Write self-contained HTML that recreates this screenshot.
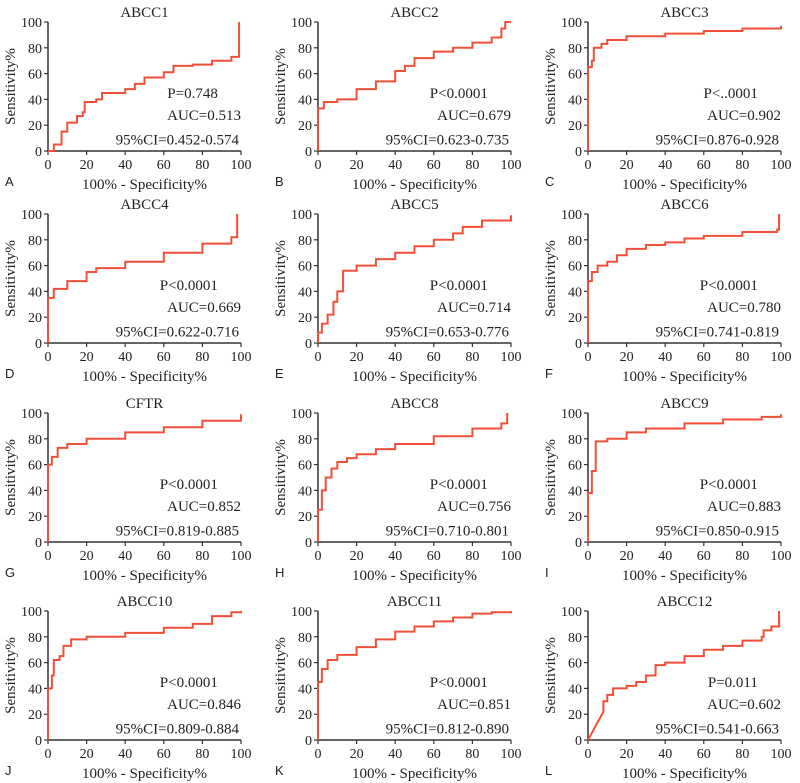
<!DOCTYPE html>
<html><head><meta charset="utf-8"><style>
body{margin:0;background:#fff;}
svg{display:block;}
text{font-family:"Liberation Serif",serif;fill:#222;}
</style></head><body>
<svg id="fig" width="800" height="783" viewBox="0 0 800 783" xmlns="http://www.w3.org/2000/svg"></svg>
<script>
const titles=["ABCC1","ABCC2","ABCC3","ABCC4","ABCC5","ABCC6","CFTR","ABCC8","ABCC9","ABCC10","ABCC11","ABCC12"];
const letters=["A","B","C","D","E","F","G","H","I","J","K","L"];
const pTexts=["P=0.748","P<0.0001","P<..0001","P<0.0001","P<0.0001","P<0.0001","P<0.0001","P<0.0001","P<0.0001","P<0.0001","P<0.0001","P=0.011"];
const aucTexts=["AUC=0.513","AUC=0.679","AUC=0.902","AUC=0.669","AUC=0.714","AUC=0.780","AUC=0.852","AUC=0.756","AUC=0.883","AUC=0.846","AUC=0.851","AUC=0.602"];
const ciTexts=["95%CI=0.452-0.574","95%CI=0.623-0.735","95%CI=0.876-0.928","95%CI=0.622-0.716","95%CI=0.653-0.776","95%CI=0.741-0.819","95%CI=0.819-0.885","95%CI=0.710-0.801","95%CI=0.850-0.915","95%CI=0.809-0.884","95%CI=0.812-0.890","95%CI=0.541-0.663"];
const tickVals=[0,20,40,60,80,100];
const curveA=[[0,0],[3,0],[3,5],[7,5],[7,15],[10,22],[15,27],[18,30],[19,38],[25,40],[28,45],[40,48],[45,52],[50,57],[60,61],[65,66],[75,67],[85,70],[95,73],[99,76],[99,100]];
const curveB=[[0,0],[0,33],[3,38],[10,40],[20,48],[30,54],[40,62],[45,66],[50,72],[60,77],[70,80],[80,84],[90,88],[95,95],[97,100],[100,100]];
const curveC=[[0,0],[0,65],[2,70],[3,80],[7,83],[10,86],[20,89],[40,91],[60,93],[80,95],[100,97]];
const curveD=[[0,0],[0,35],[3,42],[10,48],[20,55],[25,58],[40,63],[60,70],[80,77],[95,82],[98,90],[98,100]];
const curveE=[[0,0],[0,8],[2,15],[5,22],[8,32],[10,40],[13,45],[13,56],[20,60],[30,65],[40,70],[50,75],[60,80],[70,85],[75,90],[85,95],[100,99]];
const curveF=[[0,0],[0,48],[2,55],[5,60],[10,63],[15,68],[20,73],[30,76],[40,78],[50,81],[60,83],[80,86],[98,88],[99,100]];
const curveG=[[0,0],[0,60],[2,66],[5,73],[10,76],[20,80],[40,85],[60,89],[80,94],[100,99]];
const curveH=[[0,0],[0,25],[2,40],[4,50],[7,57],[10,62],[15,65],[20,68],[30,72],[40,76],[60,82],[80,88],[95,92],[98,100]];
const curveI=[[0,0],[0,38],[2,55],[4,78],[10,80],[20,85],[30,88],[50,92],[70,95],[90,97],[100,99]];
const curveJ=[[0,0],[0,40],[2,50],[3,62],[6,65],[8,73],[12,78],[20,80],[40,83],[60,87],[75,90],[85,96],[95,99],[100,100]];
const curveK=[[0,0],[0,45],[2,55],[5,62],[10,66],[20,72],[30,78],[40,84],[50,88],[60,92],[70,95],[80,98],[90,99],[100,100]];
const curveL=[[0,0],[8,22],[8,30],[10,35],[13,40],[20,42],[25,45],[30,50],[35,58],[40,60],[50,65],[60,70],[70,73],[80,77],[90,80],[91,85],[95,88],[99,90],[99,100]];
const curves=[curveA,curveB,curveC,curveD,curveE,curveF,curveG,curveH,curveI,curveJ,curveK,curveL];
const colX=[48,318,588], rowY=[22,214,413,611], W=193, H=129;
const svg=document.getElementById('fig');
const NS="http://www.w3.org/2000/svg";
function mk(tag,attrs,parent){const e=document.createElementNS(NS,tag);for(const k in attrs)e.setAttribute(k,attrs[k]);parent.appendChild(e);return e;}
curves.forEach((c,i)=>{
  const x0=colX[i%3], y0=rowY[Math.floor(i/3)];
  const sx=v=>x0+v/100*W, sy=v=>y0+H-v/100*H;
  const g=mk('g',{},svg);
  
  
  const t=mk('text',{x:x0+W/2,y:y0-5,'text-anchor':'middle','font-size':15},g);t.textContent=titles[i];
  
  
  // axes
  const ax=mk('path',{d:`M${x0},${y0} V${y0+H} H${x0+W}`,stroke:'#333','stroke-width':1.5,fill:'none'},g);
  
  
  tickVals.forEach(v=>{
    mk('line',{x1:x0-4,x2:x0,y1:sy(v),y2:sy(v),stroke:'#333','stroke-width':1.2},g);
    mk('line',{x1:sx(v),x2:sx(v),y1:y0+H,y2:y0+H+4,stroke:'#333','stroke-width':1.2},g);
    const yl=mk('text',{x:x0-6,y:sy(v)+5,'text-anchor':'end','font-size':14},g);yl.textContent=v;
    
    
    const xl=mk('text',{x:sx(v),y:y0+H+18,'text-anchor':'middle','font-size':14},g);xl.textContent=v;
    
    
  });
  const yt=mk('text',{x:0,y:0,'text-anchor':'middle','font-size':15,transform:`translate(${x0-33},${y0+H/2}) rotate(-90)`},g);yt.textContent='Sensitivity%';
  
  
  const xt=mk('text',{x:x0+W/2,y:y0+H+38,'text-anchor':'middle','font-size':15},g);xt.textContent='100% - Specificity%';
  
  
  const lt=mk('text',{x:x0-43,y:y0+H+35,'font-size':13,style:'font-family:"Liberation Sans",sans-serif'},g);lt.textContent=letters[i];
  
  
  // curve
  let d=`M${sx(c[0][0])},${sy(c[0][1])}`;
  for(let k=1;k<c.length;k++){
    if(i===11&&k===1) d+=` L${sx(c[k][0])},${sy(c[k][1])}`;
    else d+=` H${sx(c[k][0])} V${sy(c[k][1])}`;
  }
  const p=mk('path',{d:d,stroke:'#f0503a','stroke-width':2,fill:'none'},g);
  
  
  const st=[[pTexts[i],sx(88),sy(41),'p-value'],[aucTexts[i],sx(100),sy(24),'auc-value'],[ciTexts[i],sx(99),sy(5),'ci-value']];
  st.forEach(s=>{const e=mk('text',{x:s[1],y:s[2],'text-anchor':'end','font-size':15},g);e.textContent=s[0];
    
    });
});
</script>
</body></html>
